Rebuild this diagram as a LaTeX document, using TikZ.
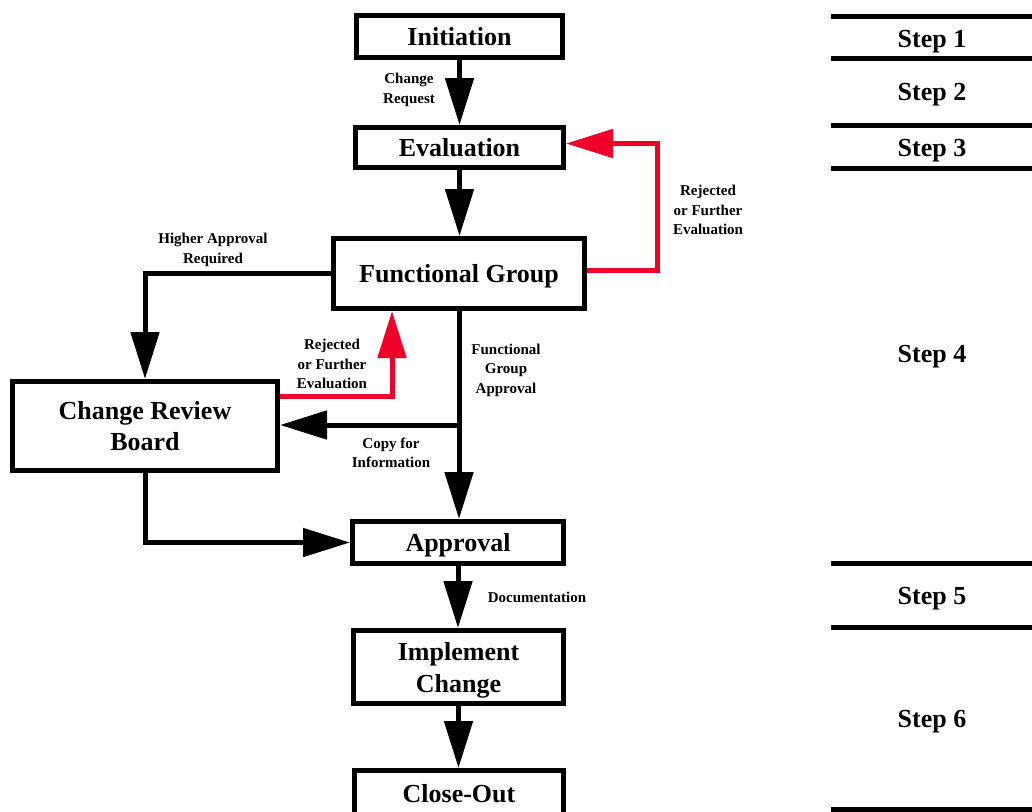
\documentclass[tikz,border=0pt]{standalone}
\usepackage{fontspec}
\setmainfont{Liberation Serif}
\usetikzlibrary{arrows.meta,calc}
\definecolor{rejred}{RGB}{240,0,40}
\tikzset{
  box/.style={draw, line width=5pt, inner sep=0pt, align=center,
    font=\bfseries\fontsize{26}{31}\selectfont},
  oneline/.style={text height=18pt, text depth=0pt},
  note/.style={inner sep=0pt, align=center,
    font=\bfseries\fontsize{15}{19.5}\selectfont},
  steplabel/.style={inner sep=0pt, anchor=base, font=\bfseries\fontsize{26}{31}\selectfont},
  flow/.style={line width=5pt, -{Triangle[length=47pt,width=28pt]}},
  backflow/.style={flow, draw=rejred},
  rule/.style={line width=5pt},
}
\begin{document}
\begin{tikzpicture}[x=1pt,y=-1pt]
\useasboundingbox (0,0) rectangle (1032,811);

% process boxes
\node[box, oneline, minimum width=206pt, minimum height=42pt] (init)  at (459.5,36.5) {Initiation};
\node[box, oneline, minimum width=208pt, minimum height=40pt] (eval)  at (459.5,147.5) {Evaluation};
\node[box, oneline, minimum width=251pt, minimum height=70pt] (fg)    at (459,273.5) {Functional Group};
\node[box, minimum width=265pt, minimum height=89pt] (crb)   at (145,426) {Change Review\\Board};
\node[box, oneline, minimum width=211pt, minimum height=42pt] (appr)  at (458,542.5) {Approval};
\node[box, text height=51pt, text depth=0pt, minimum width=210pt, minimum height=73pt,
      font=\bfseries\fontsize{26}{32}\selectfont] (impl)  at (458.5,667) {Implement\\Change};
\node[box, oneline, minimum width=209pt, minimum height=45pt] (close) at (459,793) {Close-Out};

% main flow
\draw[flow] (init.south) -- (init.south |- eval.north);
\draw[flow] (eval.south) -- (eval.south |- fg.north);
\draw[flow] (fg.south) -- (fg.south |- appr.north);
\draw[flow] (appr.south) -- (appr.south |- impl.north);
\draw[flow] (impl.south) -- (impl.south |- close.north);

% escalation to the review board
\draw[flow] (fg.west) -| (crb.north);
\coordinate (branch) at ($(fg.south)+(0,114)$);
\draw[flow] (branch) -- (branch -| crb.east);
\draw[flow] (crb.south) |- (appr.west);

% rejection loops
\draw[backflow] ([yshift=30pt]crb.east) -| ([xshift=-67pt]fg.south);
\draw[backflow] ([yshift=3pt]fg.east) -- ++(70,0) |- ([yshift=4pt]eval.east);

% connector labels
\node[note] at (409,90) {Change\\Request};
\node[note] at (213,250) {Higher Approval\\Required};
\node[note] at (332,364) {Rejected\\or Further\\Evaluation};
\node[note] at (506,370) {Functional\\Group\\Approval};
\node[note] at (391,453) {Copy for\\Information};
\node[note] at (537,597) {Documentation};
\node[note] at (708,210) {Rejected\\or Further\\Evaluation};

% step column
\foreach \yy in {16,58.5,125.5,168.5,563,627.5,809}
  \draw[rule] (831,\yy) -- (1032,\yy);
\node[steplabel] (s1) at (932,47.5)  {Step 1};
\node[steplabel] (s2) at (932,100.5) {Step 2};
\node[steplabel] (s3) at (932,156.5) {Step 3};
\node[steplabel] (s4) at (932,362.5) {Step 4};
\node[steplabel] (s5) at (932,604.5) {Step 5};
\node[steplabel] (s6) at (932,727.5) {Step 6};
\end{tikzpicture}
\end{document}
